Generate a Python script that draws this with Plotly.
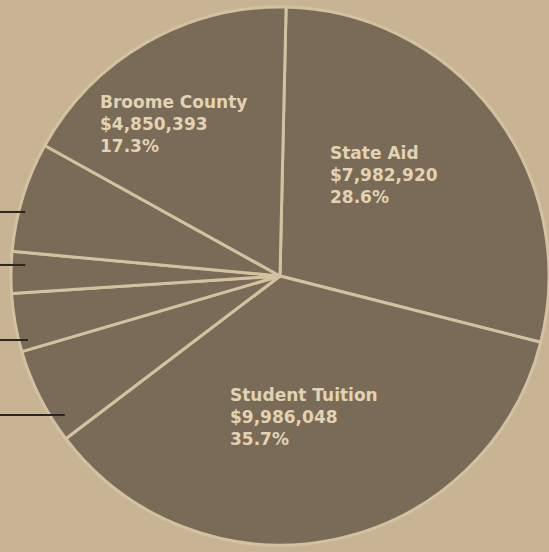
import plotly.graph_objects as go

labels = ["State Aid", "Student Tuition", "Other A", "Other B", "Other C", "Other D", "Broome County"]
amounts = ["$7,982,920", "$9,986,048", "", "", "", "", "$4,850,393"]
percents = [28.6, 35.7, 5.8, 3.5, 2.5, 6.6, 17.3]
show_label = [True, True, False, False, False, False, True]

BG = "#c8b493"
FILL = "#7a6a58"
LINE = "#d3c2a0"
TXT = "#e2d3b2"

fig = go.Figure()
fig.add_trace(go.Pie(
    labels=labels,
    values=percents,
    sort=False,
    direction="clockwise",
    rotation=1.3,
    marker=dict(colors=[FILL] * len(labels), line=dict(color=LINE, width=3)),
    textinfo="none",
    hoverinfo="label+percent",
    showlegend=False,
    domain=dict(x=[0.02, 1.0], y=[0.011, 0.989]),
))

# label positions (paper coords) for the three labelled slices
label_pos = {"State Aid": (0.597, 0.745), "Student Tuition": (0.415, 0.306), "Broome County": (0.1785, 0.837)}
for lab, amt, pct, show in zip(labels, amounts, percents, show_label):
    if not show:
        continue
    x, y = label_pos[lab]
    fig.add_annotation(
        x=x, y=y, xref="paper", yref="paper", xanchor="left", yanchor="top",
        text=f"{lab}<br>{amt}<br>{pct}%", showarrow=False, align="left",
        font=dict(family="DejaVu Sans", size=17, color=TXT, weight="bold"),
    )

# leader lines to the small (unlabelled) slices, running off the left edge
leaders = [(0.0, 0.046, 0.616), (0.0, 0.046, 0.520), (0.0, 0.051, 0.384), (0.0, 0.118, 0.248)]
for x0, x1, y in leaders:
    fig.add_shape(type="line", xref="paper", yref="paper", x0=x0, x1=x1, y0=y, y1=y,
                  line=dict(color="#2a2520", width=2))

fig.update_layout(
    width=549, height=552,
    margin=dict(l=0, r=0, t=0, b=0),
    paper_bgcolor=BG, plot_bgcolor=BG,
)
fig.write_html("out.html", config={"displayModeBar": False},
               post_script="document.body.style.margin='0';document.body.style.background='%s';" % BG)
